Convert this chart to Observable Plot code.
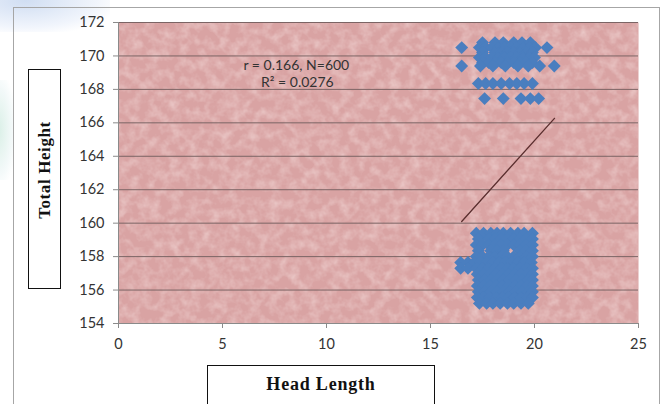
<!DOCTYPE html>
<html><head><meta charset="utf-8">
<script src="https://cdn.jsdelivr.net/npm/d3@7"></script>
<script src="https://cdn.jsdelivr.net/npm/@observablehq/plot@0.6"></script>
<style>
body{margin:0;background:#fff;}
#wrap{position:relative;width:660px;height:404px;overflow:hidden;background:#fff;}
.wm1{position:absolute;left:-20px;top:-20px;width:130px;height:52px;background:radial-gradient(ellipse at 35% 40%,rgba(200,216,240,0.85),rgba(220,230,248,0.4) 60%,rgba(255,255,255,0) 80%);}
.wm2{position:absolute;left:-8px;top:80px;width:22px;height:100px;background:radial-gradient(ellipse at 30% 50%,rgba(214,238,228,0.9),rgba(225,240,240,0.4) 60%,rgba(255,255,255,0) 85%);}
#outer{position:absolute;left:13px;top:7px;width:645px;height:430px;border:1px solid #a6a6a6;background:transparent;}
#chart{position:absolute;left:0;top:0;}
#ybox{position:absolute;left:28px;top:69px;width:31px;height:218px;border:1px solid #111;background:#fff;}
#ybox span{position:absolute;left:16px;top:100px;transform:translate(-50%,-50%) rotate(-90deg);white-space:nowrap;font-family:"Liberation Serif",serif;font-weight:bold;font-size:17px;letter-spacing:0.6px;color:#111;}
#xbox{position:absolute;left:207px;top:365px;width:226px;height:70px;border:1px solid #111;background:#fff;}
#xbox span{position:absolute;left:113px;top:18px;transform:translate(-50%,-50%);white-space:nowrap;font-family:"Liberation Serif",serif;font-weight:bold;font-size:18px;letter-spacing:0.8px;color:#111;}
</style></head><body>
<div id="wrap">
  <div class="wm1"></div><div class="wm2"></div>
  <div id="outer"></div>
  <div id="chart"></div>
  <div id="ybox"><span>Total Height</span></div>
  <div id="xbox"><span>Head Length</span></div>
</div>
<script>
// ---- data ----
const xTicks = [0, 5, 10, 15, 20, 25];
const yTicks = [154, 156, 158, 160, 162, 164, 166, 168, 170, 172];
const gridLines = [156, 158, 160, 162, 164, 166, 168, 170, 172];

// upper cluster (rows of head-length values at a given total height)
const upperRows = [
  {y: 170.8,  x: [17.5, 18.1, 18.5, 19.0, 19.4, 19.8]},
  {y: 170.5,  x: [16.5, 17.35, 17.65, 17.95, 18.25, 18.55, 18.85, 19.15, 19.45, 19.75, 20.05, 20.6]},
  {y: 170.2,  x: [17.5, 18.1, 18.4, 18.7, 19.0, 19.3, 19.6, 19.9]},
  {y: 169.9,  x: [17.35, 17.65, 17.95, 18.25, 18.55, 18.85, 19.15, 19.45, 19.75, 20.0]},
  {y: 169.6,  x: [17.5, 17.8, 18.1, 18.4, 18.7, 19.0, 19.3, 19.6, 19.9]},
  {y: 169.4,  x: [16.5, 17.4, 18.0, 18.6, 19.2, 19.7, 20.25, 20.95]},
  {y: 168.35, x: [17.3, 17.65, 18.0, 18.4, 18.8, 19.15, 19.5, 19.9]},
  {y: 167.45, x: [17.6, 18.5, 19.35, 19.8, 20.2]}
];
// lower cluster
const lowerRows = [
  {y: 159.4,  x: [17.2, 17.55, 17.9, 18.2, 18.5, 18.85, 19.2, 19.5, 19.9]},
  {y: 159.05, x: [17.3, 17.8, 18.1, 18.4, 18.7, 19.0, 19.3, 19.6, 19.9]},
  {y: 158.7,  x: [17.2, 17.5, 17.8, 18.1, 18.4, 18.7, 19.0, 19.3, 19.6, 19.9]},
  {y: 158.35, x: [17.3, 17.9, 18.2, 18.5, 19.3, 19.6, 19.9]},
  {y: 158.0,  x: [17.2, 17.5, 17.8, 18.1, 18.4, 18.7, 19.0, 19.3, 19.6, 19.9]},
  {y: 157.65, x: [16.45, 16.8, 17.1, 17.4, 17.7, 18.0, 18.3, 18.6, 18.9, 19.2, 19.5, 19.85]},
  {y: 157.3,  x: [16.45, 16.8, 17.2, 17.5, 17.8, 18.1, 18.4, 18.7, 19.0, 19.3, 19.6, 19.9]},
  {y: 156.95, x: [17.25, 17.55, 17.85, 18.15, 18.45, 18.75, 19.05, 19.35, 19.65, 19.9]},
  {y: 156.6,  x: [17.3, 17.6, 17.9, 18.2, 18.5, 18.8, 19.1, 19.4, 19.7, 19.9]},
  {y: 156.25, x: [17.25, 17.55, 17.85, 18.15, 18.45, 18.75, 19.05, 19.35, 19.65, 19.9]},
  {y: 155.9,  x: [17.3, 17.6, 17.9, 18.2, 18.5, 18.8, 19.1, 19.4, 19.7, 19.9]},
  {y: 155.55, x: [17.25, 17.55, 17.85, 18.15, 18.45, 18.75, 19.05, 19.35, 19.65, 19.9]},
  {y: 155.2,  x: [17.35, 17.7, 18.0, 18.35, 18.7, 19.0, 19.35, 19.7]}
];
// fitted trend line end points
const trendX = [16.5, 20.96];
const trendY = [160.1, 166.27];
// annotation
const annText = ["r = 0.166, N=600", "R\u00B2 = 0.0276"];
const annX = [8.55, 8.6];
const annY = [169.45, 168.4];

// ---- build tables ----
const points = [...upperRows, ...lowerRows].flatMap(r => r.x.map(x => ({x, y: r.y})));
const trend = trendX.map((x, i) => ({x, y: trendY[i]}));
const ann = annText.map((t, i) => ({t, x: annX[i], y: annY[i]}));

const chart = Plot.plot({
  width: 660, height: 404,
  marginLeft: 118, marginRight: 22, marginTop: 22, marginBottom: 81,
  style: {background: "transparent", fontFamily: "Lato, 'Open Sans', sans-serif", fontSize: "14.5px", color: "#333"},
  x: {domain: [0, 25], ticks: xTicks},
  y: {domain: [154, 172], ticks: yTicks},
  marks: [
    Plot.frame({fill: "#d9a3a3", stroke: "none"}),
    Plot.ruleY(gridLines, {stroke: "#7b6464", strokeWidth: 1}),
    Plot.ruleX([0], {stroke: "#8a8a8a"}),
    Plot.ruleY([154], {stroke: "#8a8a8a"}),
    Plot.axisX({ticks: xTicks, tickSize: 5, tickPadding: 10, stroke: "#8a8a8a", label: null, fontSize: 14.5}),
    Plot.axisY({ticks: yTicks, tickSize: 5, tickPadding: 9, stroke: "#8a8a8a", label: null, fontSize: 14.5}),
    Plot.line(trend, {x: "x", y: "y", stroke: "#5a2e2e", strokeWidth: 1.3}),
    Plot.dot(points, {x: "x", y: "y", symbol: "diamond2", r: 5.8, fill: "#4a7ebf", stroke: "none"}),
    Plot.text(ann, {x: "x", y: "y", text: "t", fontSize: 14, fill: "#333", fontFamily: "Lato, sans-serif"})
  ]
});
document.getElementById("chart").appendChild(chart);

// mottled texture over the plot background
const svg = d3.select(chart);
const defs = svg.insert("defs", ":first-child");
const f = defs.append("filter").attr("id", "mottle").attr("x", 0).attr("y", 0).attr("width", 1).attr("height", 1);
f.append("feTurbulence").attr("type", "fractalNoise").attr("baseFrequency", 0.1).attr("numOctaves", 3).attr("seed", 7).attr("result", "n");
f.append("feColorMatrix").attr("in", "n").attr("type", "matrix")
  .attr("values", "0 0 0 0 0.93  0 0 0 0 0.76  0 0 0 0 0.75  1.0 0 0 0 -0.38").attr("result", "c");
f.append("feComposite").attr("in", "c").attr("in2", "SourceGraphic").attr("operator", "in");
const xs = chart.scale("x"), ys = chart.scale("y");
const frameNode = chart.querySelector('[aria-label="frame"]');
const tex = document.createElementNS("http://www.w3.org/2000/svg", "rect");
tex.setAttribute("x", xs.apply(0));
tex.setAttribute("y", ys.apply(172));
tex.setAttribute("width", xs.apply(25) - xs.apply(0));
tex.setAttribute("height", ys.apply(154) - ys.apply(172));
tex.setAttribute("fill", "#fff");
tex.setAttribute("filter", "url(#mottle)");
frameNode.after(tex);
</script>
</body></html>
